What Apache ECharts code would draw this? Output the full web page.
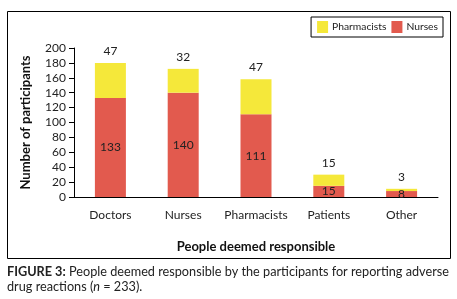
<!DOCTYPE html>
<html>
<head>
<meta charset="utf-8">
<script src="https://cdn.jsdelivr.net/npm/echarts@6/dist/echarts.min.js"></script>
<style>
	html, body { margin: 0; padding: 0; background: #fff; }
	#chart { width: 457px; height: 299px; }
</style>
</head>
<body>
<div id="chart"></div>
<script>
var categories = ['Doctors', 'Nurses', 'Pharmacists', 'Patients', 'Other']
var nursesValues = [133, 140, 111, 15, 8]
var pharmacistsValues = [47, 32, 47, 15, 3]
var yTicks = { min: 0, max: 200, interval: 20 }

var fontName = 'Lato'
var red = '#e25a4e'
var yellow = '#f5e83a'

function drawChart(chartDom) {
	var myChart = echarts.init(chartDom)
	var option = {
		textStyle: { fontFamily: fontName },
		animation: false,
		grid: { left: 74, right: 19, top: 48, bottom: 102 },
		legend: {
			data: ['Pharmacists', 'Nurses'],
			right: 14,
			top: 17,
			borderColor: '#000',
			borderWidth: 1,
			borderRadius: 0,
			padding: [4, 5, 4, 6],
			itemWidth: 11,
			itemHeight: 12,
			itemGap: 5,
			icon: 'rect',
			textStyle: { fontFamily: fontName, fontSize: 10.3, color: '#222', padding: [0, 0, 0, -1] },
		},
		xAxis: {
			type: 'category',
			data: categories,
			name: 'People deemed responsible',
			nameLocation: 'middle',
			nameGap: 43,
			nameTextStyle: { fontFamily: fontName, fontSize: 13, fontWeight: 'bold', color: '#111' },
			axisLine: { lineStyle: { color: '#000', width: 1 } },
			axisTick: { length: 5, lineStyle: { color: '#000' } },
			axisLabel: { interval: 0, fontSize: 12, color: '#222', margin: 12 },
		},
		yAxis: {
			type: 'value',
			min: yTicks.min,
			max: yTicks.max,
			interval: yTicks.interval,
			name: 'Number of participants',
			nameLocation: 'middle',
			nameGap: 42,
			nameTextStyle: { fontFamily: fontName, fontSize: 13, fontWeight: 'bold', color: '#111' },
			axisLine: { show: true, lineStyle: { color: '#000', width: 1 } },
			axisTick: { show: true, length: 5, lineStyle: { color: '#000' } },
			axisLabel: { fontSize: 12, color: '#222', margin: 8 },
			splitLine: { show: false },
		},
		series: [
			{
				name: 'Nurses',
				type: 'bar',
				stack: 'total',
				barWidth: 31,
				data: nursesValues,
				itemStyle: { color: red },
				label: { show: true, position: 'inside', fontSize: 12, color: '#222' },
			},
			{
				name: 'Pharmacists',
				type: 'bar',
				stack: 'total',
				barWidth: 31,
				data: pharmacistsValues,
				itemStyle: { color: yellow },
				label: { show: true, position: 'top', distance: 6, fontSize: 12, color: '#222' },
			},
		],
		graphic: [
			{
				type: 'rect',
				shape: { x: 7.5, y: 11.5, width: 443, height: 247 },
				style: { fill: null, stroke: '#000', lineWidth: 1 },
				silent: true,
			},
			{
				type: 'text',
				left: 7,
				top: 264,
				style: {
					text: '{b|FIGURE 3:} People deemed responsible by the participants for reporting adverse\ndrug reactions ({i|n} = 233).',
					fontFamily: fontName,
					fontSize: 12.7,
					lineHeight: 15,
					fill: '#222',
					rich: {
						b: { fontFamily: fontName, fontSize: 12.7, fontWeight: 'bold', fill: '#222' },
						i: { fontFamily: fontName, fontSize: 12.7, fontStyle: 'italic', fill: '#222' },
					},
				},
			},
		],
	}

	option && myChart.setOption(option)
}

drawChart(document.getElementById('chart'))
</script>
</body>
</html>
